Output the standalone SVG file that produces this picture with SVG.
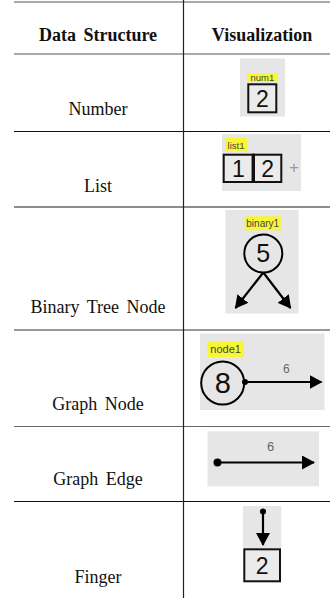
<svg xmlns="http://www.w3.org/2000/svg" width="330" height="598" viewBox="0 0 330 598">
<style>
.hd{font-family:"Liberation Serif","Times New Roman",serif;font-size:18px;font-weight:bold;fill:#111;text-anchor:middle;word-spacing:3px}
.lb{font-family:"Liberation Serif","Times New Roman",serif;font-size:18px;fill:#111;text-anchor:middle;word-spacing:3px}
.bg{fill:#e6e6e6}
.tag{fill:#f7f736}
.tagt{font-family:"Liberation Sans",Arial,sans-serif;fill:#444;text-anchor:middle}
.val{font-family:"Liberation Sans",Arial,sans-serif;fill:#111;text-anchor:middle}
.cell{fill:#ebebeb;stroke:#111;stroke-width:2}
.wt{font-family:"Liberation Sans",Arial,sans-serif;fill:#666;text-anchor:middle}
.plus{font-family:"Liberation Sans",Arial,sans-serif;fill:#9a9a9a;text-anchor:middle}
.edge{stroke:#000;stroke-width:2.2;fill:none}
.circ{fill:none;stroke:#000;stroke-width:2}
.rule{stroke-width:1.2}
</style>
<defs>
<marker id="ah" markerUnits="userSpaceOnUse" markerWidth="13" markerHeight="14" refX="12" refY="7" orient="auto">
<path d="M0,0 L13,7 L0,14 z" fill="#000"/>
</marker>
</defs>

<g id="table">
<line class="rule" x1="14" y1="2" x2="330" y2="2" stroke="#555"/>
<line class="rule" x1="14" y1="54" x2="330" y2="54" stroke="#555"/>
<line class="rule" x1="14" y1="131.5" x2="330" y2="131.5" stroke="#111"/>
<line x1="14" y1="207" x2="330" y2="207" stroke="#666" stroke-width="1.6"/>
<line class="rule" x1="14" y1="330" x2="330" y2="330" stroke="#333"/>
<line class="rule" x1="14" y1="426.5" x2="330" y2="426.5" stroke="#666"/>
<line class="rule" x1="14" y1="501.5" x2="330" y2="501.5" stroke="#111"/>
<line class="rule" x1="183.5" y1="0" x2="183.5" y2="598" stroke="#222"/>
<text class="hd" x="98" y="40.5">Data Structure</text>
<text class="hd" x="262" y="40.5">Visualization</text>
<text class="lb" x="98" y="115">Number</text>
<text class="lb" x="98" y="191.5">List</text>
<text class="lb" x="98" y="313">Binary Tree Node</text>
<text class="lb" x="98" y="410">Graph Node</text>
<text class="lb" x="98" y="485">Graph Edge</text>
<text class="lb" x="98" y="583">Finger</text>
</g>

<g id="number">
<rect class="bg" x="240" y="58.5" width="45" height="58"/>
<rect class="tag" x="247.3" y="73" width="30" height="8.8"/>
<text class="tagt" x="262.3" y="80.6" font-size="9.5">num1</text>
<rect class="cell" x="248.3" y="84.3" width="28" height="28"/>
<text class="val" x="262.3" y="107" font-size="23">2</text>
</g>

<g id="list">
<rect class="bg" x="222" y="134" width="79" height="57"/>
<rect class="tag" x="225" y="138" width="22.3" height="13.3"/>
<text class="tagt" x="236" y="148.5" font-size="9.5">list1</text>
<rect class="cell" x="223.7" y="154.7" width="29" height="27.3"/>
<rect class="cell" x="254" y="154.7" width="27.3" height="27.3"/>
<line x1="253.3" y1="153.7" x2="253.3" y2="183" stroke="#111" stroke-width="3"/>
<text class="val" x="238.3" y="176.6" font-size="23">1</text>
<text class="val" x="267.6" y="176.6" font-size="23">2</text>
<text class="plus" x="294" y="173" font-size="17">+</text>
</g>

<g id="binary">
<rect class="bg" x="225.5" y="210" width="73" height="103.5"/>
<rect class="tag" x="244.7" y="216.3" width="36" height="14"/>
<text class="tagt" x="262.7" y="227.2" font-size="10">binary1</text>
<circle class="circ" cx="263.3" cy="253.5" r="19"/>
<text class="val" x="263.3" y="262.3" font-size="25">5</text>
</g>

<g id="graphnode">
<rect class="bg" x="200" y="333.5" width="124.5" height="76.5"/>
<rect class="tag" x="207.3" y="341.5" width="36.7" height="15.5"/>
<text class="tagt" x="225.6" y="353" font-size="11">node1</text>
<circle class="circ" cx="222.7" cy="383" r="21.5"/>
<text class="val" x="222.7" y="393.3" font-size="29">8</text>
<circle cx="245" cy="382" r="3" fill="#000"/>
<text class="wt" x="286.3" y="373" font-size="12">6</text>
</g>

<g id="graphedge">
<rect class="bg" x="207.5" y="431.3" width="111.5" height="55"/>
<circle cx="217.5" cy="462.5" r="4" fill="#000"/>
<text class="wt" x="270.7" y="451" font-size="13">6</text>
</g>

<g id="finger">
<rect class="bg" x="243" y="506" width="38.3" height="42"/>
<circle cx="263" cy="511.5" r="3" fill="#000"/>
<rect class="cell" x="244.3" y="549.3" width="35.7" height="32"/>
<text class="val" x="262.2" y="573.8" font-size="23">2</text>
</g>

<g id="connectors">
<line class="edge" x1="263.3" y1="272.5" x2="235.5" y2="308" marker-end="url(#ah)"/>
<line class="edge" x1="263.3" y1="272.5" x2="290.5" y2="308" marker-end="url(#ah)"/>
<line class="edge" x1="245" y1="382" x2="321.5" y2="382" marker-end="url(#ah)"/>
<line class="edge" x1="217.5" y1="462.5" x2="314" y2="462.5" marker-end="url(#ah)"/>
<line class="edge" x1="263" y1="511.5" x2="263" y2="545" marker-end="url(#ah)"/>
</g>
</svg>
